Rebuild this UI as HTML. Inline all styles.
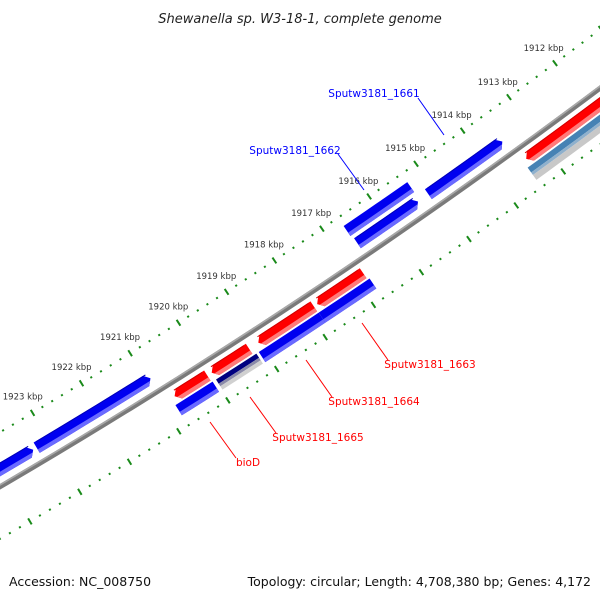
<!DOCTYPE html>
<html><head><meta charset="utf-8"><style>
html,body{margin:0;padding:0;background:#fff;}
svg{display:block;font-family:"DejaVu Sans","Liberation Sans",sans-serif;}
</style></head><body>
<svg id="map" width="600" height="600" viewBox="0 0 600 600" xmlns="http://www.w3.org/2000/svg">
<rect width="600" height="600" fill="#fff"/>
<text x="300" y="23" text-anchor="middle" font-size="13" font-style="italic" fill="#222">Shewanella sp. W3-18-1, complete genome</text>
<g id="ticks"></g>
<g id="backbone"></g>
<g id="features"></g>
<g id="labels"></g>
<text x="9" y="586" font-size="12.5" fill="#111">Accession: NC_008750</text>
<text x="591" y="586" text-anchor="end" font-size="12.5" fill="#111">Topology: circular; Length: 4,708,380 bp; Genes: 4,172</text>
</svg>
<script>
// feature data (kbp)
const featStart = [1923.32, 1920.93, 1915.35, 1913.55, 1915.31, 1920.07, 1919.21, 1917.87, 1916.84, 1911.0, 1920.05, 1919.15, 1917.86, 1916.80, 1911.0, 1924.6];
const featEnd   = [1925.0, 1923.25, 1916.63, 1915.13, 1916.66, 1920.74, 1919.98, 1919.02, 1917.80, 1913.39, 1920.81, 1919.98, 1919.10, 1917.86, 1913.46, 1925.0];
const featRow   = ["F1","F1","F1","F1","F2","R1","R1","R1","R1","R1","R2","R2","R2","R2","R2","F1"];
const featKind  = ["blueArrow","blueArrow","blueArrow","blueArrow","blueBox","redArrow","redArrow","redArrow","redArrow","redArrow","blueBox","navyGray","blueBox","blueBox","steelGray","blueArrow"];
const tickLabels = [1912,1913,1914,1915,1916,1917,1918,1919,1920,1921,1922,1923];

const NS="http://www.w3.org/2000/svg";
const CX=-3176, CY=-4946, K0=1912, A0=53.32, DEG=0.5245;
const R={F2:6262,F1:6278,BB:6293,R1:6306,R2:6320,TO:6246,TI:6338,LAB:6227};
function pt(k,r){const a=(A0+(k-K0)*DEG)*Math.PI/180;return [CX+r*Math.cos(a),CY+r*Math.sin(a)];}
function arcPts(k1,k2,r,n){const o=[];for(let i=0;i<=n;i++){o.push(pt(k1+(k2-k1)*i/n,r));}return o;}
function poly(pts,fill,parent,name){const p=document.createElementNS(NS,'polygon');
p.setAttribute('points',pts.map(q=>q[0].toFixed(2)+','+q[1].toFixed(2)).join(' '));
p.setAttribute('fill',fill);


parent.appendChild(p);return p;}
function line(a,b,stroke,w,parent,name){const l=document.createElementNS(NS,'line');
l.setAttribute('x1',a[0]);l.setAttribute('y1',a[1]);l.setAttribute('x2',b[0]);l.setAttribute('y2',b[1]);
l.setAttribute('stroke',stroke);l.setAttribute('stroke-width',w);


parent.appendChild(l);return l;}

// tick rings
const tg=document.getElementById('ticks');
for(let i=0;i<=80;i++){const k=1910+i*0.2;const major=(i%5===0);
  [R.TO,R.TI].forEach(r=>{
    if(major) line(pt(k,r-3.5),pt(k,r+3.5),'#1a8a1a',2,tg,'major-tick');
    else line(pt(k,r-1),pt(k,r+1),'#1a8a1a',2,tg,'minor-tick');
  });
}
tickLabels.forEach(k=>{const p=pt(k,R.LAB);const t=document.createElementNS(NS,'text');
t.setAttribute('x',p[0]);t.setAttribute('y',p[1]+3);t.setAttribute('text-anchor','middle');
t.setAttribute('font-size','8.5');t.setAttribute('fill','#333');t.textContent=k+' kbp';


tg.appendChild(t);});

// backbone
const bg=document.getElementById('backbone');
const bb1=arcPts(1910.5,1925.5,R.BB-2.5,30), bb2=arcPts(1925.5,1910.5,R.BB+2.5,30);
poly(bb1.concat(bb2),'#7a7a7a',bg,'backbone-ring');
poly(arcPts(1910.5,1925.5,R.BB-2.5,30).concat(arcPts(1925.5,1910.5,R.BB-0.8,30)),'#a8a8a8',bg,'backbone-highlight');

// features
const fg=document.getElementById('features');
const H=0.09, HW=6;
function band(k1,k2,ra,rb,fill,name){const n=Math.max(2,Math.ceil((k2-k1)*4));
 return poly(arcPts(k1,k2,ra,n).concat(arcPts(k2,k1,rb,n)),fill,fg,name);}
for(let i=0;i<featStart.length;i++){
 const k1=featStart[i],k2=featEnd[i],r0=R[featRow[i]],kind=featKind[i];
 const n=Math.max(2,Math.ceil((k2-k1)*4));
 if(kind==='blueArrow'||kind==='redArrow'){
   const main=kind==='blueArrow'?'#0000f0':'#ff0000', light=kind==='blueArrow'?'#6a6aff':'#ff7a7a', dark=kind==='blueArrow'?'#0000b8':'#d00000';
   let pts, lower;
   if(kind==='blueArrow'){ // head at k1 (upper right)
     const kb=k1+H;
     pts=[pt(k1,r0)].concat([pt(kb,r0-HW)],arcPts(kb,k2,r0-HW,n),arcPts(k2,kb,r0+HW,n));
     lower=[pt(kb+(k1-kb)*2/3,r0+2)].concat(arcPts(kb,k2,r0+2,n).slice(1),arcPts(k2,kb,r0+HW,n));
   } else { // head at k2 (lower left)
     const kb=k2-H;
     pts=arcPts(k1,kb,r0-HW,n).concat([pt(k2,r0)],arcPts(kb,k1,r0+HW,n));
     lower=arcPts(k1,kb,r0+2,n).concat([pt(kb+(k2-kb)*2/3,r0+2)],arcPts(kb,k1,r0+HW,n));
   }
   poly(pts,main,fg,kind==='blueArrow'?'forward-gene-arrow':'reverse-gene-arrow');
   poly(lower,light,fg,'gene-shade');
   band(k1+H*0.5,k2-H*0.5,r0-HW,r0-HW+1,dark,'gene-edge');
 } else if(kind==='blueBox'){
   band(k1,k2,r0-HW,r0+HW,'#0000f0','gene-box');
   band(k1,k2,r0+2,r0+HW,'#6a6aff','gene-shade');
 } else if(kind==='navyGray'){
   band(k1,k2,r0-HW,r0-1,'#000080','gene-box-navy');
   band(k1,k2,r0-1,r0+2,'#8a8aa8','gene-shade');
   band(k1,k2,r0+2,r0+HW,'#d0d0d0','gene-shade-gray');
 } else if(kind==='steelGray'){
   band(k1,k2,r0-HW,r0,'#4682b4','gene-box-steel');
   band(k1,k2,r0,r0+3,'#8fb0cc','gene-shade');
   band(k1,k2,r0+3,r0+HW+3,'#c8c8c8','gene-shade-gray');
 }
}

// labels
const lg=document.getElementById('labels');
const labs=[
 ['Sputw3181_1661',374,97,'#0000ff',[418,98],[444,135]],
 ['Sputw3181_1662',295,154,'#0000ff',[338,154],[364,190]],
 ['Sputw3181_1663',430,368,'#ff0000',[362,323],[388,360]],
 ['Sputw3181_1664',374,405,'#ff0000',[306,360],[332,397]],
 ['Sputw3181_1665',318,441,'#ff0000',[250,397],[276,433]],
 ['bioD',248,466,'#ff0000',[210,422],[236,458]]
];
labs.forEach(l=>{const t=document.createElementNS(NS,'text');
 t.setAttribute('x',l[1]);t.setAttribute('y',l[2]);t.setAttribute('text-anchor','middle');
 t.setAttribute('font-size','10.5');t.setAttribute('fill',l[3]);t.textContent=l[0];
 
 
 lg.appendChild(t);
 line(l[4],l[5],l[3],1,lg,'label-leader');});
</script>
</body></html>
